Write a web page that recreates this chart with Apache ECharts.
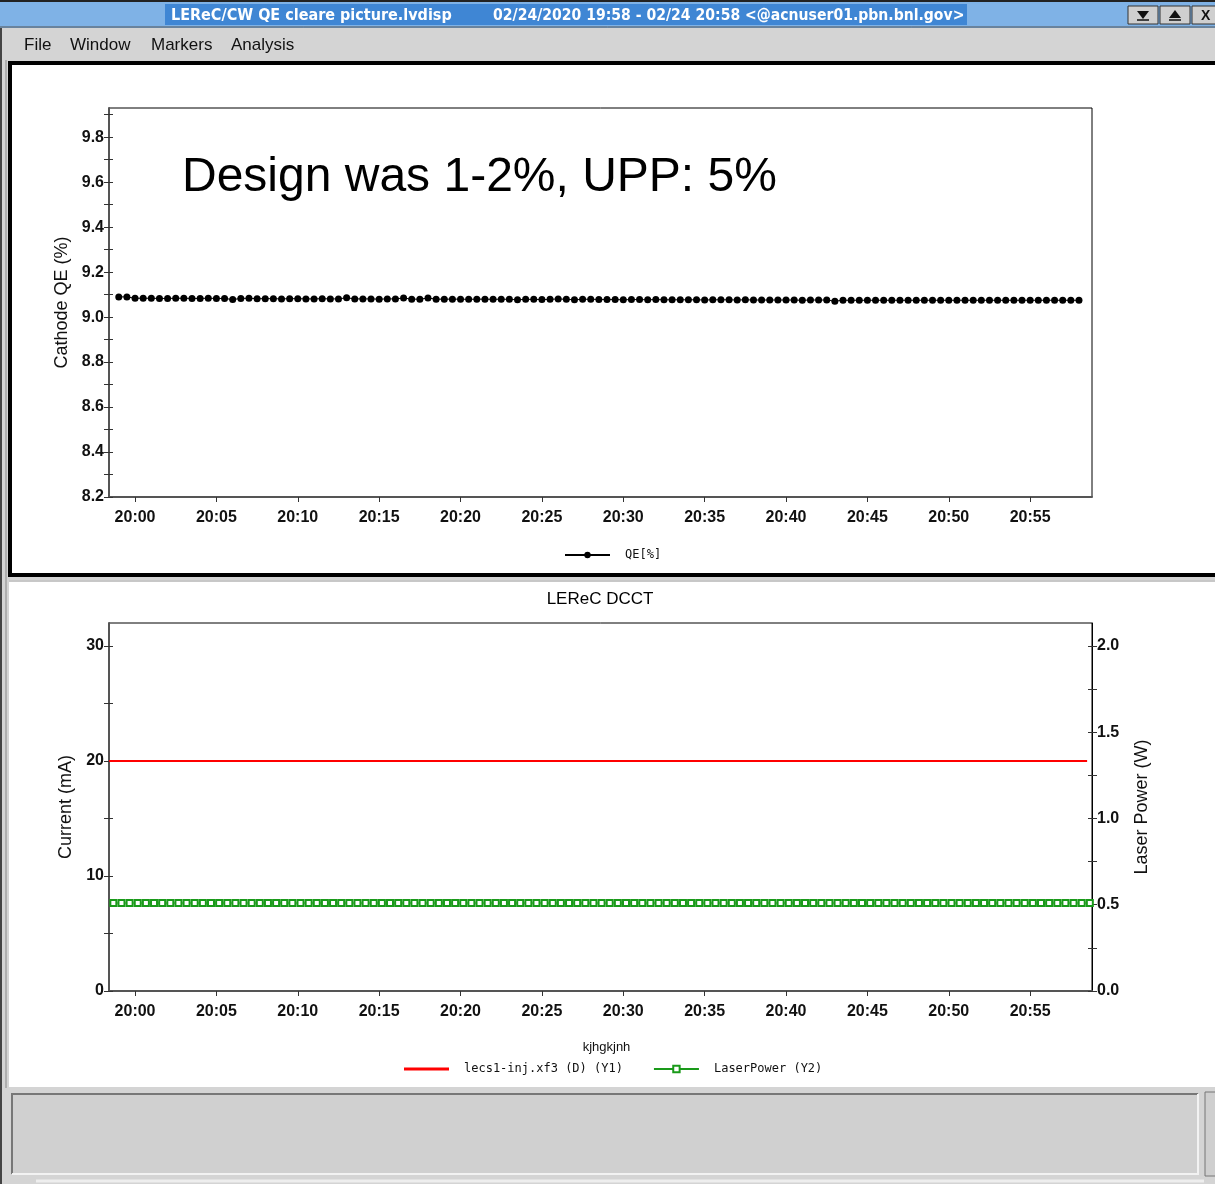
<!DOCTYPE html>
<html>
<head>
<meta charset="utf-8">
<title>LEReC/CW QE cleare picture.lvdisp</title>
<script src="https://cdn.jsdelivr.net/npm/echarts@6/dist/echarts.min.js"></script>
<style>
  html, body { margin: 0; padding: 0; background: #d4d4d4; }
  #chart { width: 1215px; height: 1184px; }
</style>
</head>
<body>
<div id="chart"></div>
<script>
// ---- time ticks shared by both plots ----
const timeTickLabels = ['20:00', '20:05', '20:10', '20:15', '20:20', '20:25',
                        '20:30', '20:35', '20:40', '20:45', '20:50', '20:55'];
const timeRange = ['19:58:24', '20:58:48'];

// ---- upper plot: cathode quantum efficiency ----
const qeTickLabels = ['8.2', '8.4', '8.6', '8.8', '9.0', '9.2', '9.4', '9.6', '9.8'];
const qeTickMarks = [8.2, 8.3, 8.4, 8.5, 8.6, 8.7, 8.8, 8.9, 9.0, 9.1,
                     9.2, 9.3, 9.4, 9.5, 9.6, 9.7, 9.8, 9.9];
const qeRange = [8.2, 9.93];
const qeStart = '19:59:00';      // first sample, one sample every 30 s
const qeValues = [
  9.090, 9.090, 9.084, 9.084, 9.084, 9.083, 9.083, 9.084, 9.084, 9.083,
  9.083, 9.084, 9.083, 9.083, 9.078, 9.083, 9.084, 9.082, 9.082, 9.082,
  9.081, 9.082, 9.082, 9.081, 9.081, 9.082, 9.081, 9.081, 9.086, 9.081,
  9.081, 9.081, 9.080, 9.081, 9.081, 9.085, 9.080, 9.080, 9.085, 9.080,
  9.080, 9.080, 9.080, 9.079, 9.080, 9.080, 9.079, 9.080, 9.079, 9.077,
  9.079, 9.079, 9.078, 9.079, 9.081, 9.079, 9.077, 9.079, 9.080, 9.078,
  9.078, 9.078, 9.077, 9.078, 9.078, 9.077, 9.078, 9.077, 9.077, 9.077,
  9.077, 9.077, 9.076, 9.077, 9.077, 9.077, 9.076, 9.077, 9.076, 9.076,
  9.076, 9.076, 9.076, 9.076, 9.075, 9.076, 9.076, 9.076, 9.071, 9.075,
  9.075, 9.075, 9.075, 9.075, 9.075, 9.075, 9.075, 9.075, 9.075, 9.075,
  9.075, 9.075, 9.075, 9.075, 9.075, 9.075, 9.075, 9.075, 9.075, 9.075,
  9.075, 9.075, 9.075, 9.075, 9.075, 9.075, 9.075, 9.075, 9.075
];

// ---- lower plot: DCCT current (Y1) and laser power (Y2) ----
const currentTickLabels = ['0', '10', '20', '30'];
const currentTickMarks = [0, 5, 10, 15, 20, 25, 30];
const currentRange = [0, 32];
const powerTickLabels = ['0.0', '0.5', '1.0', '1.5', '2.0'];
const powerTickMarks = [0, 0.25, 0.5, 0.75, 1.0, 1.25, 1.5, 1.75, 2.0];
const powerRange = [0, 2.1333];
const currentTimes = ['19:58:24', '20:58:30'];
const currentValues = [20.0, 20.0];
const laserStart = '19:58:40';   // first sample, one sample every 30 s
const laserValues = [
  0.51, 0.51, 0.51, 0.51, 0.51, 0.51, 0.51, 0.51, 0.51, 0.51,
  0.51, 0.51, 0.51, 0.51, 0.51, 0.51, 0.51, 0.51, 0.51, 0.51,
  0.51, 0.51, 0.51, 0.51, 0.51, 0.51, 0.51, 0.51, 0.51, 0.51,
  0.51, 0.51, 0.51, 0.51, 0.51, 0.51, 0.51, 0.51, 0.51, 0.51,
  0.51, 0.51, 0.51, 0.51, 0.51, 0.51, 0.51, 0.51, 0.51, 0.51,
  0.51, 0.51, 0.51, 0.51, 0.51, 0.51, 0.51, 0.51, 0.51, 0.51,
  0.51, 0.51, 0.51, 0.51, 0.51, 0.51, 0.51, 0.51, 0.51, 0.51,
  0.51, 0.51, 0.51, 0.51, 0.51, 0.51, 0.51, 0.51, 0.51, 0.51,
  0.51, 0.51, 0.51, 0.51, 0.51, 0.51, 0.51, 0.51, 0.51, 0.51,
  0.51, 0.51, 0.51, 0.51, 0.51, 0.51, 0.51, 0.51, 0.51, 0.51,
  0.51, 0.51, 0.51, 0.51, 0.51, 0.51, 0.51, 0.51, 0.51, 0.51,
  0.51, 0.51, 0.51, 0.51, 0.51, 0.51, 0.51, 0.51, 0.51, 0.51,
  0.51
];

// ---- helpers ----
// times are kept as seconds after 19:00 on a plain value axis
const SAMPLE_STEP_S = 30;
function toSec(hms) {
  const p = hms.split(':').map(Number);
  return (p[0] - 19) * 3600 + p[1] * 60 + (p[2] || 0);
}
function pad(n) { return (n < 10 ? '0' : '') + n; }
function fmtTime(v) {
  const h = 19 + Math.floor(v / 3600);
  const m = Math.floor((v % 3600) / 60);
  return pad(h) + ':' + pad(m);
}
function sampled(startHms, values) {
  const t0 = toSec(startHms);
  return values.map((v, i) => [t0 + i * SAMPLE_STEP_S, v]);
}

const timeTicks = timeTickLabels.map(toSec);
const tickFont = { fontFamily: 'Liberation Sans, Arial, sans-serif', fontWeight: 'bold', fontSize: 16, color: '#111' };
const nameFont = { fontFamily: 'Liberation Sans, Arial, sans-serif', fontSize: 18, color: '#111' };
const legendFont = { fontFamily: 'DejaVu Sans Mono, monospace', fontSize: 12, color: '#111' };

function timeAxis(gridIndex, extra) {
  return Object.assign({
    type: 'value', gridIndex,
    min: toSec(timeRange[0]), max: toSec(timeRange[1]),
    axisLine: { show: true, onZero: false, lineStyle: { color: '#555', width: 2 } },
    axisTick: { show: true, length: 5, customValues: timeTicks, lineStyle: { color: '#333' } },
    axisLabel: Object.assign({ customValues: timeTicks, formatter: fmtTime, margin: 13 }, tickFont),
    splitLine: { show: false }
  }, extra || {});
}
function valueAxis(gridIndex, position, range, tickMarks, labelVals, fmt, lineStyle, extra) {
  return Object.assign({
    type: 'value', gridIndex, position, min: range[0], max: range[1],
    axisLine: { show: true, onZero: false, lineStyle },
    axisTick: { show: true, length: 5, customValues: tickMarks, lineStyle: { color: '#333' } },
    axisLabel: Object.assign({ customValues: labelVals, formatter: fmt, margin: 5 }, tickFont),
    splitLine: { show: false }
  }, extra || {});
}
// inward half of the cross-shaped tick marks
function innerTicks(gridIndex, position, range, tickMarks) {
  return {
    type: 'value', gridIndex, position, min: range[0], max: range[1],
    axisLine: { show: false },
    axisTick: { show: true, inside: true, length: 4, customValues: tickMarks, lineStyle: { color: '#333' } },
    axisLabel: { show: false },
    splitLine: { show: false }
  };
}

const chart = echarts.init(document.getElementById('chart'), null, { renderer: 'canvas' });

const W = 1215, H = 1184;
const titleFont = 'bold 16px "DejaVu Sans Condensed", "DejaVu Sans", sans-serif';
const titleFont2 = 'bold 15.6px "DejaVu Sans Condensed", "DejaVu Sans", sans-serif';
const menuFont = '17px "Liberation Sans", Arial, sans-serif';
const graphics = [
  // window frame and panels
  { type: 'rect', z: -20, shape: { x: 0, y: 0, width: W, height: H }, style: { fill: '#d4d4d4' } },
  { type: 'rect', z: -19, shape: { x: 0, y: 0, width: W, height: 28 }, style: { fill: '#7fb2e6' } },
  { type: 'rect', z: -18, shape: { x: 165, y: 4, width: 802, height: 21 }, style: { fill: '#3f86d4' } },
  { type: 'line', z: -18, shape: { x1: 0, y1: 1, x2: W, y2: 1 }, style: { stroke: '#222', lineWidth: 2 } },
  { type: 'line', z: -18, shape: { x1: 0, y1: 27, x2: W, y2: 27 }, style: { stroke: '#555', lineWidth: 1 } },
  { type: 'text', z: -17, style: { x: 171, y: 16, text: 'LEReC/CW QE cleare picture.lvdisp', fill: '#fff',
      font: titleFont, verticalAlign: 'middle' } },
  { type: 'text', z: -17, style: { x: 493, y: 16, text: '02/24/2020 19:58 - 02/24 20:58 <@acnuser01.pbn.bnl.gov>', fill: '#fff',
      font: titleFont2, verticalAlign: 'middle' } },
  // window buttons
  { type: 'rect', z: -17, shape: { x: 1128, y: 6, width: 30, height: 18 }, style: { fill: '#cfcfcf', stroke: '#333', lineWidth: 1 } },
  { type: 'rect', z: -17, shape: { x: 1160, y: 6, width: 30, height: 18 }, style: { fill: '#cfcfcf', stroke: '#333', lineWidth: 1 } },
  { type: 'rect', z: -17, shape: { x: 1192, y: 6, width: 30, height: 18 }, style: { fill: '#cfcfcf', stroke: '#333', lineWidth: 1 } },
  { type: 'polygon', z: -16, shape: { points: [[1137, 11], [1149, 11], [1143, 19]] }, style: { fill: '#111' } },
  { type: 'line', z: -16, shape: { x1: 1137, y1: 20, x2: 1149, y2: 20 }, style: { stroke: '#111', lineWidth: 1.5 } },
  { type: 'polygon', z: -16, shape: { points: [[1169, 18], [1181, 18], [1175, 10]] }, style: { fill: '#111' } },
  { type: 'line', z: -16, shape: { x1: 1169, y1: 20, x2: 1181, y2: 20 }, style: { stroke: '#111', lineWidth: 1.5 } },
  { type: 'text', z: -16, style: { x: 1201, y: 16, text: 'X', fill: '#111', font: 'bold 14px "Liberation Sans", sans-serif', verticalAlign: 'middle' } },
  // menu bar
  { type: 'text', z: -17, style: { x: 24, y: 45, text: 'File', fill: '#111', font: menuFont, verticalAlign: 'middle' } },
  { type: 'text', z: -17, style: { x: 70, y: 45, text: 'Window', fill: '#111', font: menuFont, verticalAlign: 'middle' } },
  { type: 'text', z: -17, style: { x: 151, y: 45, text: 'Markers', fill: '#111', font: menuFont, verticalAlign: 'middle' } },
  { type: 'text', z: -17, style: { x: 231, y: 45, text: 'Analysis', fill: '#111', font: menuFont, verticalAlign: 'middle' } },
  // left window edge
  { type: 'line', z: -15, shape: { x1: 1, y1: 28, x2: 1, y2: H }, style: { stroke: '#444', lineWidth: 2 } },
  { type: 'line', z: -15, shape: { x1: 6, y1: 60, x2: 6, y2: 1088 }, style: { stroke: '#888', lineWidth: 1 } },
  // upper panel (QE)
  { type: 'rect', z: -15, shape: { x: 10, y: 63, width: W + 10, height: 512 }, style: { fill: '#fff', stroke: '#000', lineWidth: 4 } },
  // lower panel (DCCT)
  { type: 'rect', z: -15, shape: { x: 9, y: 582, width: W, height: 505 }, style: { fill: '#fff' } },
  { type: 'line', z: -14, shape: { x1: 9, y1: 581, x2: W, y2: 581 }, style: { stroke: '#bbb', lineWidth: 1 } },
  // status area
  { type: 'rect', z: -15, shape: { x: 12, y: 1094, width: 1186, height: 80 }, style: { fill: '#d0d0d0' } },
  { type: 'polyline', z: -14, shape: { points: [[12, 1174], [12, 1094], [1198, 1094]] }, style: { stroke: '#777', lineWidth: 2, fill: null } },
  { type: 'polyline', z: -14, shape: { points: [[12, 1174], [1198, 1174], [1198, 1094]] }, style: { stroke: '#f2f2f2', lineWidth: 2, fill: null } },
  { type: 'rect', z: -15, shape: { x: 1205, y: 1092, width: 12, height: 84 }, style: { fill: '#cfcfcf', stroke: '#777', lineWidth: 1 } },
  { type: 'line', z: -14, shape: { x1: 36, y1: 1181, x2: 1204, y2: 1181 }, style: { stroke: '#eee', lineWidth: 3 } },
  // annotation in the QE plot
  { type: 'text', z: 10, style: { x: 182, y: 178, text: 'Design was 1-2%, UPP: 5%', fill: '#000',
      font: '48px "Liberation Sans", Arial, sans-serif', verticalAlign: 'middle' } }
];

const option = {
  animation: false,
  backgroundColor: '#d4d4d4',
  title: {
    text: 'LEReC DCCT', left: 595, top: 586, textAlign: 'center',
    textStyle: { fontFamily: 'Liberation Sans, Arial, sans-serif', fontSize: 17, fontWeight: 'normal', color: '#000' }
  },
  graphic: { elements: graphics },
  grid: [
    { left: 109, top: 108, width: 983, height: 389, show: true, backgroundColor: '#fff', borderColor: '#000', borderWidth: 1 },
    { left: 109, top: 623, width: 983, height: 368, show: true, backgroundColor: '#fff', borderColor: '#000', borderWidth: 1 }
  ],
  legend: [
    {
      data: ['QE[%]'], left: 559, top: 544, itemWidth: 45, itemHeight: 8,
      textStyle: Object.assign({ padding: [0, 0, 0, 10] }, legendFont)
    },
    {
      data: [
        { name: 'lecs1-inj.xf3 (D) (Y1)', icon: 'path://M0,0H45V3H0Z' },
        'LaserPower (Y2)'
      ],
      left: 399, top: 1058, itemWidth: 45, itemHeight: 8, itemGap: 30,
      textStyle: Object.assign({ padding: [0, 0, 0, 10] }, legendFont)
    }
  ],
  xAxis: [
    timeAxis(0),
    timeAxis(1, {
      name: 'kjhgkjnh', nameLocation: 'middle', nameGap: 50,
      nameTextStyle: Object.assign({ padding: [0, 0, 0, 12] }, legendFont, { fontFamily: 'Liberation Sans, Arial, sans-serif', fontSize: 13 })
    })
  ],
  yAxis: [
    valueAxis(0, 'left', qeRange, qeTickMarks, qeTickLabels.map(Number), v => v.toFixed(1),
      { color: '#555', width: 2 },
      { name: 'Cathode QE (%)', nameLocation: 'middle', nameGap: 37, nameRotate: 90, nameTextStyle: nameFont }),
    innerTicks(0, 'left', qeRange, qeTickMarks),
    valueAxis(1, 'left', currentRange, currentTickMarks, currentTickLabels.map(Number), v => String(Math.round(v)),
      { color: '#555', width: 2 },
      { name: 'Current (mA)', nameLocation: 'middle', nameGap: 30, nameRotate: 90, nameTextStyle: nameFont }),
    valueAxis(1, 'right', powerRange, powerTickMarks, powerTickLabels.map(Number), v => v.toFixed(1),
      { color: '#000', width: 1 },
      { name: 'Laser Power (W)', nameLocation: 'middle', nameGap: 41, nameRotate: 90, nameTextStyle: nameFont }),
    innerTicks(1, 'left', currentRange, currentTickMarks),
    innerTicks(1, 'right', powerRange, powerTickMarks)
  ],
  series: [
    {
      name: 'QE[%]', type: 'line', xAxisIndex: 0, yAxisIndex: 0,
      data: sampled(qeStart, qeValues),
      symbol: 'circle', symbolSize: 7, showSymbol: true,
      lineStyle: { color: '#000', width: 1 }, itemStyle: { color: '#000' }
    },
    {
      name: 'lecs1-inj.xf3 (D) (Y1)', type: 'line', xAxisIndex: 1, yAxisIndex: 2,
      data: currentTimes.map((t, i) => [toSec(t), currentValues[i]]),
      symbol: 'none', lineStyle: { color: '#f00', width: 2 }, itemStyle: { color: '#f00' }
    },
    {
      name: 'LaserPower (Y2)', type: 'line', xAxisIndex: 1, yAxisIndex: 3,
      data: sampled(laserStart, laserValues),
      symbol: 'emptyRect', symbolSize: 6, showSymbol: true,
      lineStyle: { color: '#1a9a1a', width: 1 }, itemStyle: { color: '#1a9a1a', borderWidth: 1 }
    }
  ]
};

chart.setOption(option);
</script>
</body>
</html>
